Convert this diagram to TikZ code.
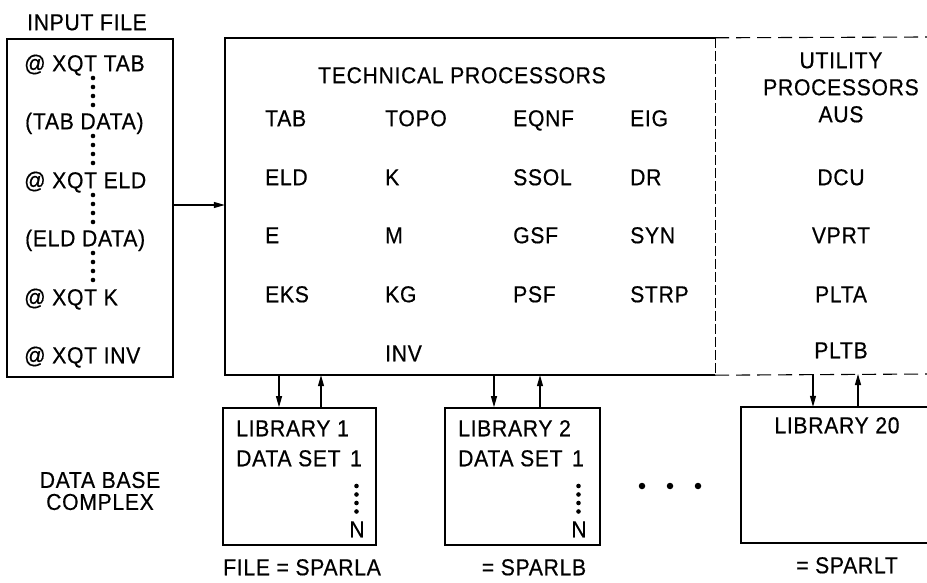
\documentclass[tikz,border=0pt]{standalone}
\usepackage{fontspec}
\setmainfont{Liberation Sans}
\newfontfamily\lettering[FakeStretch=0.92, LetterSpace=3, FakeBold=0.5]{Liberation Sans}
\usetikzlibrary{arrows.meta}
\begin{document}
\begin{tikzpicture}[x=1pt,y=-1pt,
  lbl/.style={font=\lettering\fontsize{23}{24}\selectfont, inner sep=0pt, text height=16.5pt, text depth=0pt},
  lw/.style={lbl, anchor=west},
  boxline/.style={line width=1.6pt},
  conn/.style={line width=1.1pt, -{Triangle[length=11pt,width=6pt]}},
  dot/.style={circle, fill, inner sep=0pt, minimum size=4.6pt},
  bigdot/.style={circle, fill, inner sep=0pt, minimum size=6.5pt},
  sepdash/.style={line width=1.4pt, dash pattern=on 10pt off 3pt},
  faintdash/.style={line width=1.1pt, dash pattern=on 14pt off 7pt},
]
\useasboundingbox (0,0) rectangle (927,583);

% ---------------- input file ----------------
\node[lbl] (inputtitle) at (87,22) {INPUT FILE};
\node[draw, boxline, minimum width=166pt, minimum height=338pt, inner sep=0pt] (input) at (90,208) {};
\node[lw] (in1) at (24,63)  {@ XQT TAB};
\node[lw] (in2) at (25,121) {(TAB DATA)};
\node[lw] (in3) at (24,180) {@ XQT ELD};
\node[lw] (in4) at (25,238) {(ELD DATA)};
\node[lw] (in5) at (24,297) {@ XQT K};
\node[lw] (in6) at (24,355) {@ XQT INV};
\foreach \r [count=\i] in {63,121,180,238}{
  \foreach \d [count=\j] in {15,24,33,42}{
    \node[dot] (idot\i\j) at (93,\r+\d) {};
  }
}

% ---------------- processors frame ----------------
\node[minimum width=490pt, minimum height=337pt, inner sep=0pt] (tech) at (470,206.5) {};
\draw[boxline] (tech.north east) -- (tech.north west) -- (tech.south west) -- (tech.south east);
\draw[sepdash] (tech.north east) -- (tech.south east);
\coordinate (utr) at (927,37);
\coordinate (ubr) at (927,374);
\draw[faintdash] (tech.north east) -- (utr);
\draw[faintdash] (tech.south east) -- (ubr);

\draw[conn] (input.east |- 0,205) -- (tech.west |- 0,205);

\node[lbl] (techtitle) at (462,75) {TECHNICAL PROCESSORS};
% column 1
\node[lw] (t11) at (265,118) {TAB};
\node[lw] (t12) at (265,177) {ELD};
\node[lw] (t13) at (265,235) {E};
\node[lw] (t14) at (265,294) {EKS};
% column 2
\node[lw] (t21) at (385,118) {TOPO};
\node[lw] (t22) at (385,177) {K};
\node[lw] (t23) at (385,235) {M};
\node[lw] (t24) at (385,294) {KG};
\node[lw] (t25) at (385,353) {INV};
% column 3
\node[lw] (t31) at (513,118) {EQNF};
\node[lw] (t32) at (513,177) {SSOL};
\node[lw] (t33) at (513,235) {GSF};
\node[lw] (t34) at (513,294) {PSF};
% column 4
\node[lw] (t41) at (630,118) {EIG};
\node[lw] (t42) at (630,177) {DR};
\node[lw] (t43) at (630,235) {SYN};
\node[lw] (t44) at (630,294) {STRP};

% utility
\node[lbl] (u0) at (841,60)  {UTILITY};
\node[lbl] (u1) at (841,87)  {PROCESSORS};
\node[lbl] (u2) at (841,114) {AUS};
\node[lbl] (u3) at (841,177) {DCU};
\node[lbl] (u4) at (841,235) {VPRT};
\node[lbl] (u5) at (841,294) {PLTA};
\node[lbl] (u6) at (841,350) {PLTB};

% ---------------- libraries ----------------
\node[draw, boxline, minimum width=153pt, minimum height=137pt, inner sep=0pt] (lib1) at (299.5,476.5) {};
\node[draw, boxline, minimum width=155pt, minimum height=137pt, inner sep=0pt] (lib2) at (522.5,476.5) {};
\node[minimum width=186pt, minimum height=136pt, inner sep=0pt] (lib20) at (834,475) {};
\draw[boxline] (lib20.north east) -- (lib20.north west) -- (lib20.south west) -- (lib20.south east);

\node[lw] (l1a) at (236,428) {LIBRARY 1};
\node[lw] (l1b) at (236,458) {DATA SET};
\node[lbl] (l1c) at (356,458) {1};
\node[lbl] (l1n) at (357,529) {N};
\node[lw] (l2a) at (458,428) {LIBRARY 2};
\node[lw] (l2b) at (458,458) {DATA SET};
\node[lbl] (l2c) at (578,458) {1};
\node[lbl] (l2n) at (579,529) {N};
\foreach \d [count=\j] in {486,494.5,503,511.5}{
  \node[dot] (ld1\j) at (356.5,\d) {};
  \node[dot] (ld2\j) at (578.5,\d) {};
}
\node[lbl] (l20a) at (837,425) {LIBRARY 20};

\node[bigdot] (e1) at (642,486) {};
\node[bigdot] (e2) at (670,486) {};
\node[bigdot] (e3) at (698,486) {};

% arrows between processors and libraries
\coordinate (a1) at (279,0);
\coordinate (b1) at (321,0);
\coordinate (a2) at (494,0);
\coordinate (b2) at (540,0);
\coordinate (a3) at (813,0);
\coordinate (b3) at (858,0);
\draw[conn] (a1 |- tech.south) -- (a1 |- lib1.north);
\draw[conn] (b1 |- lib1.north) -- (b1 |- tech.south);
\draw[conn] (a2 |- tech.south) -- (a2 |- lib2.north);
\draw[conn] (b2 |- lib2.north) -- (b2 |- tech.south);
\draw[conn] (a3 |- ubr) -- (a3 |- lib20.north);
\draw[conn] (b3 |- lib20.north) -- (b3 |- ubr);

% labels under the libraries
\node[lw] (f1) at (223,567) {FILE = SPARLA};
\node[lbl] (f2) at (534,567) {= SPARLB};
\node[lbl] (f3) at (847,565) {= SPARLT};

\node[font=\lettering\fontsize{23}{22}\selectfont, align=center, inner sep=0pt] (dbc) at (100,491) {DATA BASE\\COMPLEX};
\end{tikzpicture}
\end{document}
